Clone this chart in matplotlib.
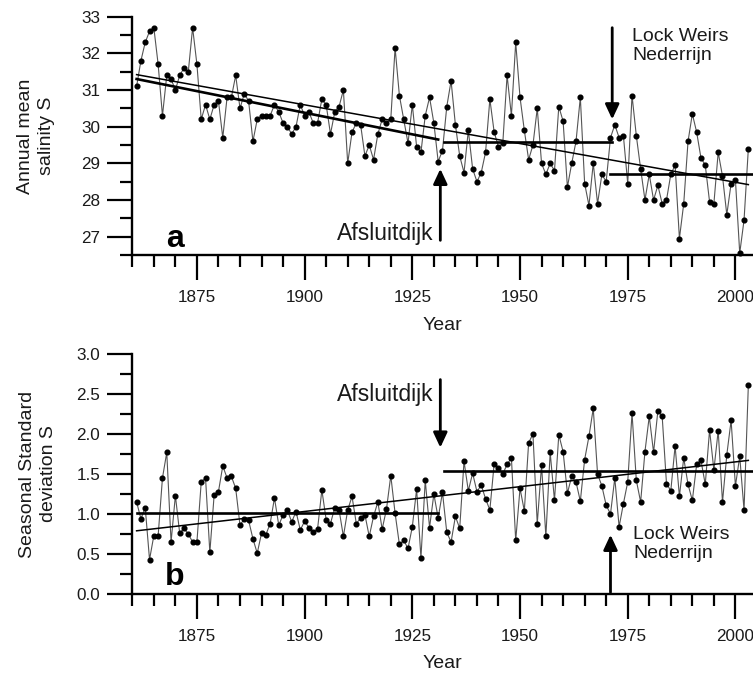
import numpy as np
import matplotlib
matplotlib.use("Agg")
import matplotlib.pyplot as plt
from matplotlib.ticker import MultipleLocator, FormatStrFormatter

plt.rcParams['font.family'] = ['Liberation Sans', 'DejaVu Sans']

years = np.arange(1861, 2004)

# Annual mean salinity (panel a)
salinity = [
    31.1, 31.8, 32.3, 32.6, 32.7, 31.7, 30.3, 31.4, 31.3, 31.0,
    31.4, 31.6, 31.5, 32.7, 31.7, 30.2, 30.6, 30.2, 30.6, 30.7,
    29.7, 30.8, 30.8, 31.4, 30.5, 30.9, 30.7, 29.6, 30.2, 30.3,
    30.3, 30.3, 30.6, 30.4, 30.1, 30.0, 29.8, 30.0, 30.6, 30.3,
    30.4, 30.1, 30.1, 30.75, 30.6, 29.8, 30.4, 30.55, 31.0, 29.0,
    29.85, 30.1, 30.05, 29.2, 29.5, 29.1, 29.8, 30.2, 30.1, 30.2,
    32.15, 30.85, 30.2, 29.55, 30.6, 29.45, 29.3, 30.3, 30.8, 30.1,
    29.05, 29.35, 30.55, 31.25, 30.05, 29.2, 28.75, 29.9, 28.85, 28.5,
    28.75, 29.3, 30.75, 29.85, 29.45, 29.55, 31.4, 30.3, 32.3, 30.8,
    29.9, 29.1, 29.5, 30.5, 29.0, 28.7, 29.0, 28.8, 30.55, 30.15,
    28.35, 29.0, 29.6, 30.8, 28.45, 27.85, 29.0, 27.9, 28.7, 28.5,
    29.7, 30.05, 29.7, 29.75, 28.45, 30.85, 29.75, 28.85, 28.0, 28.7,
    28.0, 28.4, 27.9, 28.0, 28.7, 28.95, 26.95, 27.9, 29.6, 30.35,
    29.85, 29.15, 28.95, 27.95, 27.9, 29.3, 28.65, 27.6, 28.45, 28.55,
    26.55, 27.45, 29.4,
]

# Seasonal standard deviation of salinity (panel b)
std_dev = [
    1.15, 0.94, 1.08, 0.43, 0.73, 0.73, 1.45, 1.77, 0.65, 1.23,
    0.76, 0.82, 0.75, 0.65, 0.65, 1.40, 1.45, 0.52, 1.24, 1.28,
    1.60, 1.45, 1.47, 1.32, 0.86, 0.94, 0.92, 0.69, 0.51, 0.76,
    0.74, 0.88, 1.20, 0.86, 0.99, 1.05, 0.90, 1.03, 0.80, 0.91,
    0.83, 0.78, 0.81, 1.30, 0.93, 0.88, 1.08, 1.05, 0.72, 1.05,
    1.22, 0.88, 0.95, 0.99, 0.72, 0.97, 1.15, 0.81, 1.06, 1.48,
    1.01, 0.62, 0.67, 0.57, 0.84, 1.31, 0.45, 1.42, 0.83, 1.25,
    0.95, 1.27, 0.77, 0.65, 0.97, 0.82, 1.66, 1.29, 1.51, 1.28,
    1.36, 1.19, 1.05, 1.63, 1.58, 1.50, 1.62, 1.70, 0.67, 1.32,
    1.04, 1.89, 2.00, 0.88, 1.61, 0.72, 1.77, 1.17, 1.99, 1.78,
    1.26, 1.47, 1.40, 1.16, 1.68, 1.97, 2.32, 1.50, 1.35, 1.11,
    1.00, 1.45, 0.84, 1.13, 1.40, 2.26, 1.42, 1.15, 1.78, 2.22,
    1.77, 2.29, 2.22, 1.38, 1.29, 1.85, 1.22, 1.70, 1.37, 1.17,
    1.62, 1.67, 1.37, 2.05, 1.55, 2.04, 1.15, 1.74, 2.17, 1.35,
    1.72, 1.05, 2.61,
]

# Fitted lines: overall linear trend and period means
trend_a_years = [1861, 2003]
trend_a_vals = [31.42, 28.42]
period1_a_years = [1861, 1931]
period1_a_vals = [31.30, 29.65]
period2_a_years = [1932.3, 1971.3]
period2_a_vals = [29.58, 29.58]
period3_a_years = [1970.8, 2005]
period3_a_vals = [28.72, 28.72]

trend_b_years = [1861, 2003]
trend_b_vals = [0.79, 1.67]
period1_b_years = [1861, 1931]
period1_b_vals = [1.01, 1.01]
period2_b_years = [1932.3, 2005]
period2_b_vals = [1.54, 1.54]

W, H = 753, 675
fig = plt.figure(figsize=(W / 100, H / 100), dpi=100)

x0 = 132.3 / W
ax_a = fig.add_axes([x0, 1 - 255 / H, 1 - x0, (255 - 16.7) / H])
ax_b = fig.add_axes([x0, 1 - 594 / H, 1 - x0, (594 - 354) / H])

text_col = '#1a1a1a'


def style_axes(ax):
    for side in ('top', 'right'):
        ax.spines[side].set_visible(False)
    for side in ('left', 'bottom'):
        ax.spines[side].set_linewidth(1.7)
        ax.spines[side].set_color('black')
    ax.set_xlim(1860, 1860 + (W - 132.3) / 4.308)
    ax.xaxis.set_major_locator(MultipleLocator(25))
    ax.xaxis.set_minor_locator(MultipleLocator(5))
    ax.set_xticks(np.arange(1875, 2001, 25))
    ax.tick_params(which='major', direction='out', length=18, width=1.6,
                   labelsize=12.3, colors='black', labelcolor=text_col)
    ax.tick_params(which='minor', direction='out', length=8.6, width=1.6,
                   colors='black')
    ax.tick_params(axis='x', which='major', pad=7)
    ax.tick_params(axis='y', which='major', pad=5)
    ax.set_xlabel('Year', fontsize=14, color=text_col)


def draw_series(ax, y):
    ax.plot(years, y, color='#555555', lw=0.8, zorder=3, clip_on=False)
    ax.plot(years, y, ls='none', marker='o', ms=3.4, mfc='black',
            mec='black', zorder=4, clip_on=False)


def arrow(ax, x, y_tail, y_tip):
    ax.annotate('', xy=(x, y_tip), xytext=(x, y_tail),
                arrowprops=dict(arrowstyle='-|>,head_length=0.9,head_width=0.42',
                                lw=2.0, color='black', shrinkA=0, shrinkB=0),
                zorder=5)


# ---- panel a: annual mean salinity ----
style_axes(ax_a)
ax_a.set_ylim(26.5, 33.0)
ax_a.yaxis.set_major_locator(MultipleLocator(1))
ax_a.yaxis.set_minor_locator(MultipleLocator(0.5))
ax_a.set_yticks(np.arange(27, 34, 1))
ax_a.set_ylabel('Annual mean\nsalinity S', fontsize=14, color=text_col,
                linespacing=1.3)
ax_a.yaxis.set_label_coords(-0.1245, 0.5)
ax_a.xaxis.set_label_coords(0.5, -0.262)

draw_series(ax_a, salinity)
ax_a.plot(trend_a_years, trend_a_vals, color='black', lw=1.1, zorder=5)
for yy, vv in ((period1_a_years, period1_a_vals),
               (period2_a_years, period2_a_vals),
               (period3_a_years, period3_a_vals)):
    ax_a.plot(yy, vv, color='black', lw=1.9, zorder=5)

arrow(ax_a, 1931.5, 26.9, 28.85)
ax_a.text(1929.8, 27.1, 'Afsluitdijk', ha='right', va='center',
          fontsize=16.5, color=text_col)
arrow(ax_a, 1971.4, 32.7, 30.2)
ax_a.text(1976.0, 32.2, 'Lock Weirs\nNederrijn', ha='left', va='center',
          fontsize=14, color=text_col, linespacing=1.15)
ax_a.text(1869.9, 26.73, 'a', ha='center', va='baseline', fontsize=23,
          fontweight='bold', color='black')

# ---- panel b: seasonal standard deviation ----
style_axes(ax_b)
ax_b.set_ylim(0, 3.0)
ax_b.yaxis.set_major_locator(MultipleLocator(0.5))
ax_b.yaxis.set_minor_locator(MultipleLocator(0.25))
ax_b.yaxis.set_major_formatter(FormatStrFormatter('%.1f'))
ax_b.set_ylabel('Seasonal Standard\ndeviation S', fontsize=14, color=text_col,
                linespacing=1.3)
ax_b.yaxis.set_label_coords(-0.122, 0.5)
ax_b.xaxis.set_label_coords(0.5, -0.254)

draw_series(ax_b, std_dev)
ax_b.plot(trend_b_years, trend_b_vals, color='black', lw=1.1, zorder=5)
for yy, vv in ((period1_b_years, period1_b_vals),
               (period2_b_years, period2_b_vals)):
    ax_b.plot(yy, vv, color='black', lw=1.9, zorder=5)

arrow(ax_b, 1931.5, 2.68, 1.83)
ax_b.text(1929.8, 2.49, 'Afsluitdijk', ha='right', va='center',
          fontsize=16.5, color=text_col)
arrow(ax_b, 1971.0, 0.02, 0.74)
ax_b.text(1976.2, 0.62, 'Lock Weirs\nNederrijn', ha='left', va='center',
          fontsize=14, color=text_col, linespacing=1.15)
ax_b.text(1869.9, 0.11, 'b', ha='center', va='baseline', fontsize=23,
          fontweight='bold', color='black')

fig.savefig('out.png', dpi=100, facecolor='white')
